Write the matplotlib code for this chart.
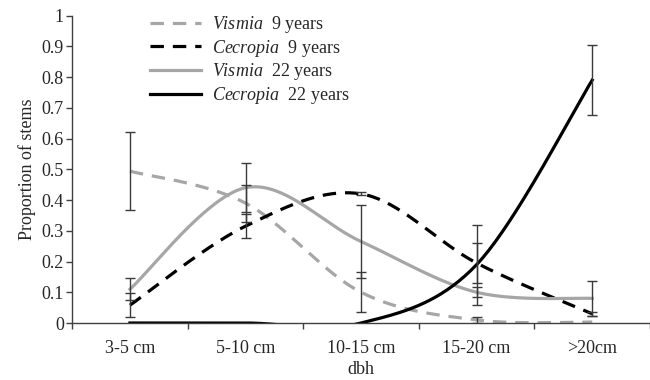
import numpy as np
import matplotlib.pyplot as plt

plt.rcParams['font.family'] = ['Liberation Serif', 'DejaVu Serif']
plt.rcParams['mathtext.fontset'] = 'custom'
plt.rcParams['mathtext.rm'] = 'Liberation Serif'
plt.rcParams['mathtext.it'] = 'Liberation Serif:italic'

# data
categories = ['3-5 cm', '5-10 cm', '10-15 cm', '15-20 cm', '>20cm']
vismia_9 = [0.494, 0.39, 0.10, 0.01, 0.003]
vismia_9_err = [0.128, 0.06, 0.065, 0.01, 0.0]
cecropia_9 = [0.058, 0.315, 0.42, 0.195, 0.03]
cecropia_9_err = [0.04, 0.04, 0.005, 0.065, 0.006]
vismia_22 = [0.11, 0.44, 0.265, 0.10, 0.08]
vismia_22_err = [0.036, 0.08, 0.12, 0.017, 0.057]
cecropia_22 = [0.0, 0.0, 0.0, 0.19, 0.79]
cecropia_22_err = [0.0, 0.0, 0.0, 0.13, 0.115]


def excel_smooth(x, y, n=40):
    # cubic bezier through the points, control points like Excel's smoothed line
    p = np.column_stack([x, y]).astype(float)
    pts = np.vstack([p[:1], p, p[-1:]])
    t = np.linspace(0, 1, n)[:, None]
    out = []
    for i in range(len(p) - 1):
        p0, p1 = pts[i + 1], pts[i + 2]
        c1 = p0 + (pts[i + 2] - pts[i]) / 6
        c2 = p1 - (pts[i + 3] - pts[i + 1]) / 6
        seg = ((1 - t) ** 3) * p0 + 3 * ((1 - t) ** 2) * t * c1 + 3 * (1 - t) * t ** 2 * c2 + t ** 3 * p1
        out.append(seg)
    out = np.vstack(out)
    return out[:, 0], out[:, 1]


fig = plt.figure(figsize=(6.5, 3.8), dpi=100)
ax = fig.add_axes([0.111, 0.15, 0.889, 0.809])

x = np.arange(len(categories))
gray = '#a6a6a6'
dash = (0, (4.2, 2.8))
series = [
    (vismia_9, vismia_9_err, gray, dash, r'$\mathit{Vismia}$  9 years'),
    (cecropia_9, cecropia_9_err, 'black', dash, r'$\mathit{Cecropia}$  9 years'),
    (vismia_22, vismia_22_err, gray, '-', r'$\mathit{Vismia}$  22 years'),
    (cecropia_22, cecropia_22_err, 'black', '-', r'$\mathit{Cecropia}$  22 years'),
]

for vals, errs, col, ls, lab in series:
    sx, sy = excel_smooth(x, vals)
    ax.plot(sx, sy, color=col, lw=2.3, ls=ls, label=lab, zorder=2)
    for xi, v, e in zip(x, vals, errs):
        if e > 0:
            ax.errorbar(xi, v, yerr=e, fmt='none', ecolor='#3a3a3a',
                        elinewidth=1.0, capsize=3.5, capthick=1.0, zorder=3)

ax.set_xlim(-0.5, 4.5)
ax.set_ylim(0, 1)
ax.set_yticks(np.arange(0, 1.01, 0.1))
ax.set_yticklabels(['0', '0.1', '0.2', '0.3', '0.4', '0.5', '0.6', '0.7', '0.8', '0.9', '1'])
ax.set_xticks(x)
ax.set_xticklabels(categories)
ax.set_xticks(np.arange(-0.5, 4.6, 1), minor=True)
ax.tick_params(axis='x', which='major', length=0, pad=12, labelsize=13, labelcolor='#262626')
ax.tick_params(axis='x', which='minor', length=4, width=1, color='#404040', direction='out')
ax.tick_params(axis='y', length=4, width=1, color='#404040', pad=2, labelsize=13, labelcolor='#262626')

for s in ['top', 'right']:
    ax.spines[s].set_visible(False)
for s in ['left', 'bottom']:
    ax.spines[s].set_color('#404040')
    ax.spines[s].set_linewidth(1.0)

ax.set_xlabel('dbh', fontsize=13, color='#262626', labelpad=3)
ax.set_ylabel('Proportion of stems', fontsize=13, color='#262626', labelpad=4)

leg = ax.legend(loc='upper left', bbox_to_anchor=(0.231, 0.963), bbox_transform=fig.transFigure,
                frameon=False, fontsize=13, handlelength=2.8, handletextpad=0.6,
                labelspacing=0.15, borderpad=0, borderaxespad=0)
for t in leg.get_texts():
    t.set_color('#262626')

fig.savefig('out.png', dpi=100)
